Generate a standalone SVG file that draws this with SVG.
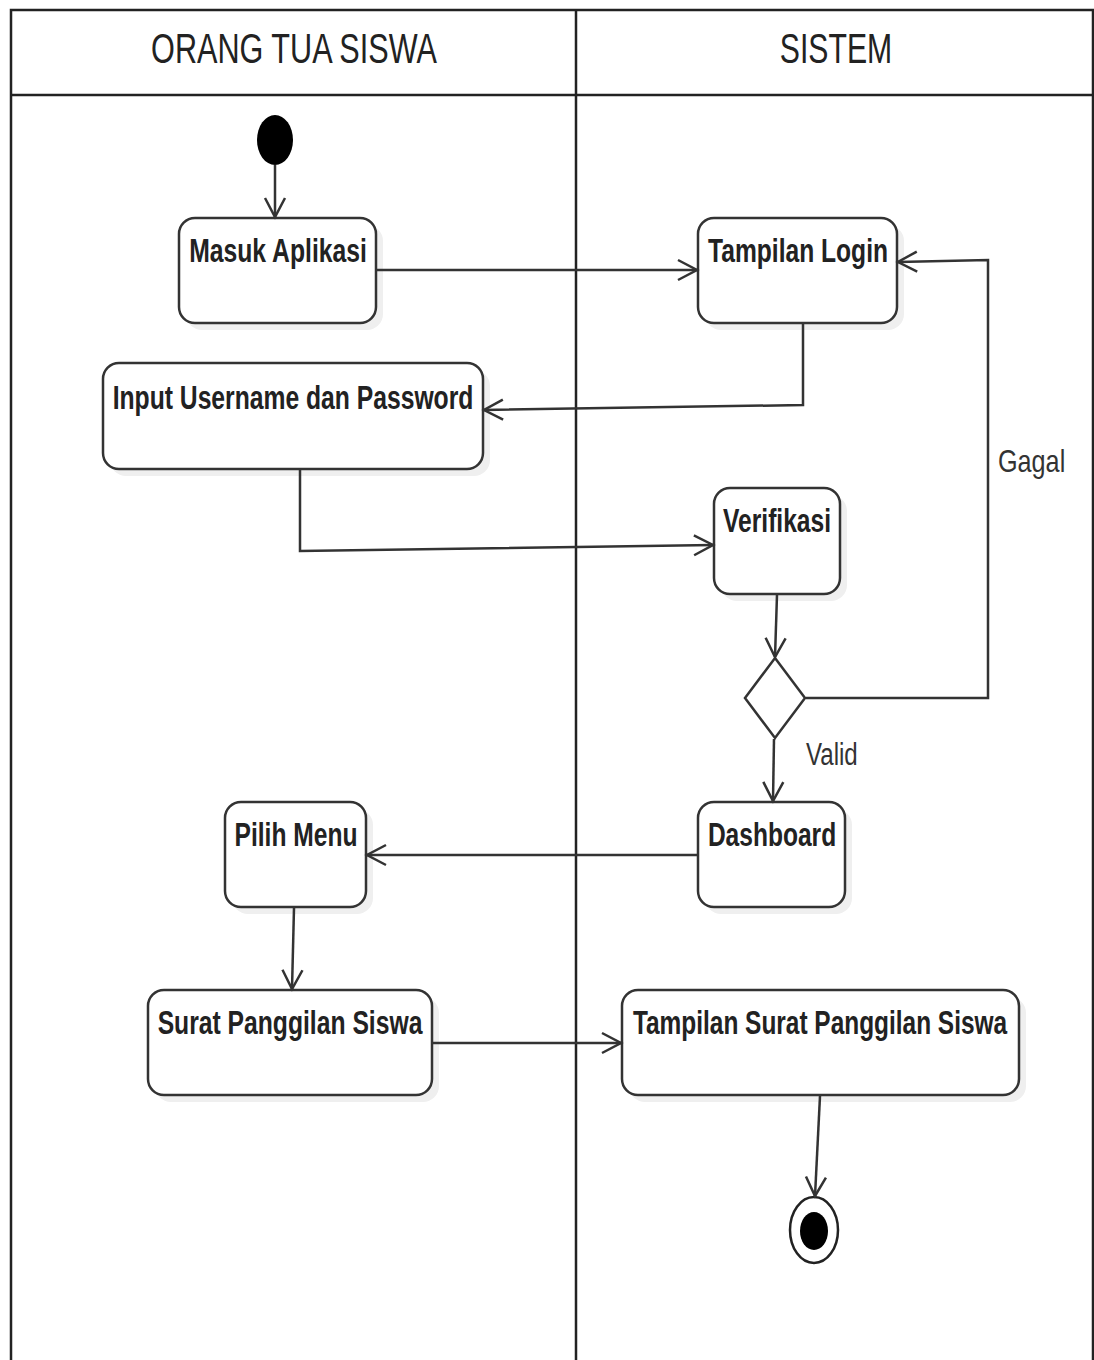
<svg xmlns="http://www.w3.org/2000/svg" width="1094" height="1360" viewBox="0 0 1094 1360">
  <style>
    .lane { fill: none; stroke: #222; stroke-width: 2.5; }
    .head { font-family: "Liberation Sans", Arial, sans-serif; font-size: 42px; fill: #222; text-anchor: middle; }
    .act rect.box { fill: #fff; stroke: #333; stroke-width: 2.5; }
    .act rect.shadow { fill: #efefef; }
    .lbl { font-family: "Liberation Sans", Arial, sans-serif; font-size: 33px; font-weight: bold; fill: #222; text-anchor: middle; }
    .guard { font-family: "Liberation Sans", Arial, sans-serif; font-size: 31px; fill: #333; }
    .flow { fill: none; stroke: #333; stroke-width: 2.5; marker-end: url(#open); }
  </style>
  <defs>
    <marker id="open" markerUnits="userSpaceOnUse" markerWidth="24" markerHeight="24" refX="20" refY="11" orient="auto" viewBox="0 0 24 22">
      <path d="M1,1 L20,11 L1,21" fill="none" stroke="#333" stroke-width="2.5"/>
    </marker>
  </defs>

  <rect width="1094" height="1360" fill="#fff"/>

  <!-- swimlanes -->
  <g id="lanes">
    <path class="lane" d="M11,1362 V10 H1093 V1362"/>
    <line class="lane" x1="11" y1="95" x2="1093" y2="95"/>
    <line class="lane" x1="576" y1="10" x2="576" y2="1362"/>
    <text class="head" transform="translate(294,63) scale(0.72,1)" textLength="397" lengthAdjust="spacingAndGlyphs">ORANG TUA SISWA</text>
    <text class="head" transform="translate(836,63) scale(0.72,1)" textLength="156" lengthAdjust="spacingAndGlyphs">SISTEM</text>
  </g>

  <!-- start -->
  <g id="start">
    <ellipse cx="275" cy="140" rx="18" ry="25" fill="#000"/>
  </g>

  <g id="masuk-aplikasi" class="act">
    <rect class="shadow" x="186" y="225" width="197" height="105" rx="16"/>
    <rect class="box" x="179" y="218" width="197" height="105" rx="16"/>
    <text class="lbl" transform="translate(278,262) scale(0.75,1)" textLength="237" lengthAdjust="spacingAndGlyphs">Masuk Aplikasi</text>
  </g>

  <g id="tampilan-login" class="act">
    <rect class="shadow" x="705" y="225" width="199" height="105" rx="16"/>
    <rect class="box" x="698" y="218" width="199" height="105" rx="16"/>
    <text class="lbl" transform="translate(798,262) scale(0.75,1)" textLength="240" lengthAdjust="spacingAndGlyphs">Tampilan Login</text>
  </g>

  <g id="input-username" class="act">
    <rect class="shadow" x="110" y="370" width="380" height="106" rx="16"/>
    <rect class="box" x="103" y="363" width="380" height="106" rx="16"/>
    <text class="lbl" transform="translate(293,409) scale(0.75,1)" textLength="481" lengthAdjust="spacingAndGlyphs">Input Username dan Password</text>
  </g>

  <g id="verifikasi" class="act">
    <rect class="shadow" x="721" y="495" width="126" height="106" rx="16"/>
    <rect class="box" x="714" y="488" width="126" height="106" rx="16"/>
    <text class="lbl" transform="translate(777,532) scale(0.75,1)" textLength="144" lengthAdjust="spacingAndGlyphs">Verifikasi</text>
  </g>

  <g id="keputusan">
    <polygon points="775,658 805,698 775,738 745,698" fill="#fff" stroke="#333" stroke-width="2.5"/>
  </g>

  <g id="dashboard" class="act">
    <rect class="shadow" x="705" y="809" width="147" height="105" rx="16"/>
    <rect class="box" x="698" y="802" width="147" height="105" rx="16"/>
    <text class="lbl" transform="translate(772,846) scale(0.75,1)" textLength="171" lengthAdjust="spacingAndGlyphs">Dashboard</text>
  </g>

  <g id="pilih-menu" class="act">
    <rect class="shadow" x="232" y="809" width="141" height="105" rx="16"/>
    <rect class="box" x="225" y="802" width="141" height="105" rx="16"/>
    <text class="lbl" transform="translate(296,846) scale(0.75,1)" textLength="164" lengthAdjust="spacingAndGlyphs">Pilih Menu</text>
  </g>

  <g id="surat-panggilan" class="act">
    <rect class="shadow" x="155" y="997" width="284" height="105" rx="16"/>
    <rect class="box" x="148" y="990" width="284" height="105" rx="16"/>
    <text class="lbl" transform="translate(290,1034) scale(0.75,1)" textLength="353" lengthAdjust="spacingAndGlyphs">Surat Panggilan Siswa</text>
  </g>

  <g id="tampilan-surat" class="act">
    <rect class="shadow" x="629" y="997" width="397" height="105" rx="16"/>
    <rect class="box" x="622" y="990" width="397" height="105" rx="16"/>
    <text class="lbl" transform="translate(820,1034) scale(0.75,1)" textLength="499" lengthAdjust="spacingAndGlyphs">Tampilan Surat Panggilan Siswa</text>
  </g>

  <!-- end -->
  <g id="end">
    <ellipse cx="814" cy="1230" rx="24" ry="33" fill="#fff" stroke="#222" stroke-width="2.5"/>
    <ellipse cx="814" cy="1231" rx="14" ry="19" fill="#000"/>
  </g>

  <!-- connectors, drawn last so they run from the box edges -->
  <g id="connectors">
    <line class="flow" x1="275" y1="165" x2="275" y2="217"/>
    <line class="flow" x1="377" y1="270" x2="697" y2="270"/>
    <polyline class="flow" points="803,324 803,405 484,410"/>
    <polyline class="flow" points="300,470 300,551 713,545"/>
    <line class="flow" x1="777" y1="595" x2="775" y2="657"/>
    <polyline class="flow" points="806,698 988,698 988,260 898,262"/>
    <line class="flow" x1="774" y1="739" x2="773" y2="801"/>
    <line class="flow" x1="697" y1="855" x2="367" y2="855"/>
    <line class="flow" x1="294" y1="908" x2="292" y2="989"/>
    <line class="flow" x1="433" y1="1043" x2="621" y2="1043"/>
    <line class="flow" x1="820" y1="1096" x2="815" y2="1196"/>
    <text class="guard" transform="translate(998,472) scale(0.81,1)" textLength="83" lengthAdjust="spacingAndGlyphs">Gagal</text>
    <text class="guard" transform="translate(806,765) scale(0.75,1)" textLength="69" lengthAdjust="spacingAndGlyphs">Valid</text>
  </g>
</svg>
